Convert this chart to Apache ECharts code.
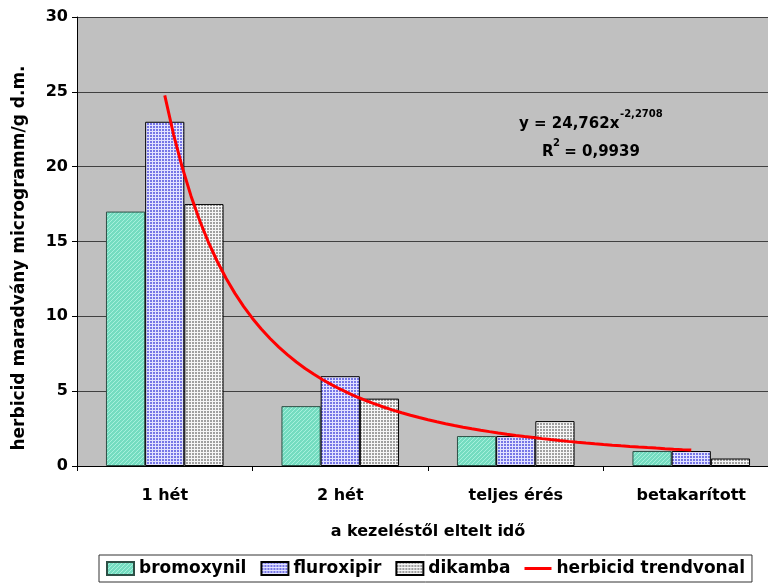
<!DOCTYPE html>
<html>
<head>
<meta charset="utf-8">
<script src="https://cdn.jsdelivr.net/npm/echarts@6/dist/echarts.min.js"></script>
<style>html,body{margin:0;padding:0;background:#fff;}#c{width:768px;height:588px;}</style>
</head>
<body>
<div id="c"></div>
<script>
const categories = ['1 hét', '2 hét', 'teljes érés', 'betakarított'];
const bromoxynil = [17, 4, 2, 1];
const fluroxipir = [23, 6, 2, 1];
const dikamba = [17.5, 4.5, 3, 0.5];
const yTicks = { min: 0, max: 30, interval: 5 };
const seriesNames = ['bromoxynil', 'fluroxipir', 'dikamba', 'herbicid trendvonal'];
const equationText = 'y = 24,762x';
const exponentText = '-2,2708';
const r2Text = ' = 0,9939';

// power-law trend (least squares on ln x, ln y) fitted to the fluroxipir series
function powerFit(ys) {
  const lx = ys.map((_, i) => Math.log(i + 1));
  const ly = ys.map(v => Math.log(v));
  const n = ys.length;
  const mx = lx.reduce((a, b) => a + b, 0) / n;
  const my = ly.reduce((a, b) => a + b, 0) / n;
  let sxy = 0, sxx = 0;
  for (let i = 0; i < n; i++) { sxy += (lx[i] - mx) * (ly[i] - my); sxx += (lx[i] - mx) ** 2; }
  const b = sxy / sxx;
  const a = Math.exp(my - b * mx);
  return { a, b };
}
const fit = powerFit(fluroxipir);
const trend = [];
for (let k = 0; k <= 60; k++) {
  const x = 1 + k * 0.05;
  trend.push([x, fit.a * Math.pow(x, fit.b)]);
}

function pattern(w, h, draw) {
  const c = document.createElement('canvas');
  c.width = w; c.height = h;
  const ctx = c.getContext('2d');
  draw(ctx);
  return { image: c, repeat: 'repeat' };
}
const tealPat = pattern(4, 4, ctx => {
  ctx.fillStyle = '#74dcc0'; ctx.fillRect(0, 0, 4, 4);
  ctx.fillStyle = '#a6f0dc';
  for (let i = 0; i < 4; i++) ctx.fillRect(i, 3 - i, 1, 1);
});
const bluePat = pattern(3, 3, ctx => {
  ctx.fillStyle = '#e2e2ff'; ctx.fillRect(0, 0, 3, 3);
  ctx.fillStyle = '#7676e6'; ctx.fillRect(0, 0, 2, 2);
});
const grayPat = pattern(3, 3, ctx => {
  ctx.fillStyle = '#f6f6f6'; ctx.fillRect(0, 0, 3, 3);
  ctx.fillStyle = '#a0a0a0'; ctx.fillRect(0, 0, 2, 2);
});

const FONT = 'DejaVu Sans';
const chart = echarts.init(document.getElementById('c'), null, { renderer: 'canvas' });
const barCommon = { type: 'bar', barGap: '0%', barCategoryGap: '33%', xAxisIndex: 0, yAxisIndex: 0 };
chart.setOption({
  animation: false,
  backgroundColor: '#ffffff',
  grid: { left: 77, top: 17, width: 702, bottom: 122, show: true, backgroundColor: '#c0c0c0', borderWidth: 0,
    containLabel: false, outerBoundsMode: 'none' },
  xAxis: [{
    type: 'category', data: categories,
    axisLine: { lineStyle: { color: '#000', width: 1 } },
    axisTick: { show: true, length: 5, lineStyle: { color: '#000' } },
    axisLabel: { color: '#000', fontFamily: FONT, fontWeight: 'bold', fontSize: 16, margin: 22 },
    name: 'a kezeléstől eltelt idő', nameLocation: 'middle', nameGap: 58,
    nameTextStyle: { color: '#000', fontFamily: FONT, fontWeight: 'bold', fontSize: 16 }
  }, {
    type: 'value', min: 0.5, max: 4.5, show: false
  }],
  yAxis: [{
    type: 'value', min: yTicks.min, max: yTicks.max, interval: yTicks.interval,
    axisLine: { show: true, lineStyle: { color: '#000', width: 1 } },
    axisTick: { show: true, length: 5, lineStyle: { color: '#000' } },
    axisLabel: { color: '#000', fontFamily: FONT, fontWeight: 'bold', fontSize: 16, margin: 9 },
    splitLine: { show: true, lineStyle: { color: '#404040', width: 1 } }
  }],
  legend: {
    left: 99, top: 555,
    padding: [5, 7], itemGap: 14, itemWidth: 27, itemHeight: 13,
    borderColor: '#333', borderWidth: 1, backgroundColor: '#fff',
    textStyle: { color: '#000', fontFamily: FONT, fontWeight: 'bold', fontSize: 17 },
    data: [
      { name: seriesNames[0], icon: 'rect' },
      { name: seriesNames[1], icon: 'rect' },
      { name: seriesNames[2], icon: 'rect' },
      { name: seriesNames[3], icon: 'path://M0,0 H9 V1 H0 Z', itemStyle: { color: '#ff0000' } }
    ]
  },
  series: [
    Object.assign({}, barCommon, { name: seriesNames[0], data: bromoxynil,
      itemStyle: { color: tealPat, borderColor: '#2d4f45', borderWidth: 1 } }),
    Object.assign({}, barCommon, { name: seriesNames[1], data: fluroxipir,
      itemStyle: { color: bluePat, borderColor: '#000', borderWidth: 1 } }),
    Object.assign({}, barCommon, { name: seriesNames[2], data: dikamba,
      itemStyle: { color: grayPat, borderColor: '#000', borderWidth: 1 } }),
    { type: 'line', name: seriesNames[3], xAxisIndex: 1, yAxisIndex: 0, data: trend,
      symbol: 'none', smooth: false, z: 5,
      lineStyle: { color: '#ff0000', width: 3 }, itemStyle: { color: '#ff0000' } }
  ],
  graphic: [
    { type: 'text', x: 20, y: 258, rotation: Math.PI / 2, z: 10,
      style: { text: 'herbicid maradvány microgramm/g d.m.', fill: '#000',
        font: 'bold 17px "' + FONT + '"', textAlign: 'center', textVerticalAlign: 'middle' } },
    { type: 'text', x: 519, y: 124, z: 10,
      style: { text: equationText, fill: '#000', font: 'bold 15px "' + FONT + '"', textAlign: 'left', textVerticalAlign: 'middle' } },
    { type: 'text', x: 620, y: 114, z: 10,
      style: { text: exponentText, fill: '#000', font: 'bold 10px "' + FONT + '"', textAlign: 'left', textVerticalAlign: 'middle' } },
    { type: 'text', x: 542, y: 152, z: 10,
      style: { text: 'R', fill: '#000', font: 'bold 15px "' + FONT + '"', textAlign: 'left', textVerticalAlign: 'middle' } },
    { type: 'text', x: 553, y: 143, z: 10,
      style: { text: '2', fill: '#000', font: 'bold 10px "' + FONT + '"', textAlign: 'left', textVerticalAlign: 'middle' } },
    { type: 'text', x: 559, y: 152, z: 10,
      style: { text: r2Text, fill: '#000', font: 'bold 15px "' + FONT + '"', textAlign: 'left', textVerticalAlign: 'middle' } }
  ]
});
</script>
</body>
</html>
